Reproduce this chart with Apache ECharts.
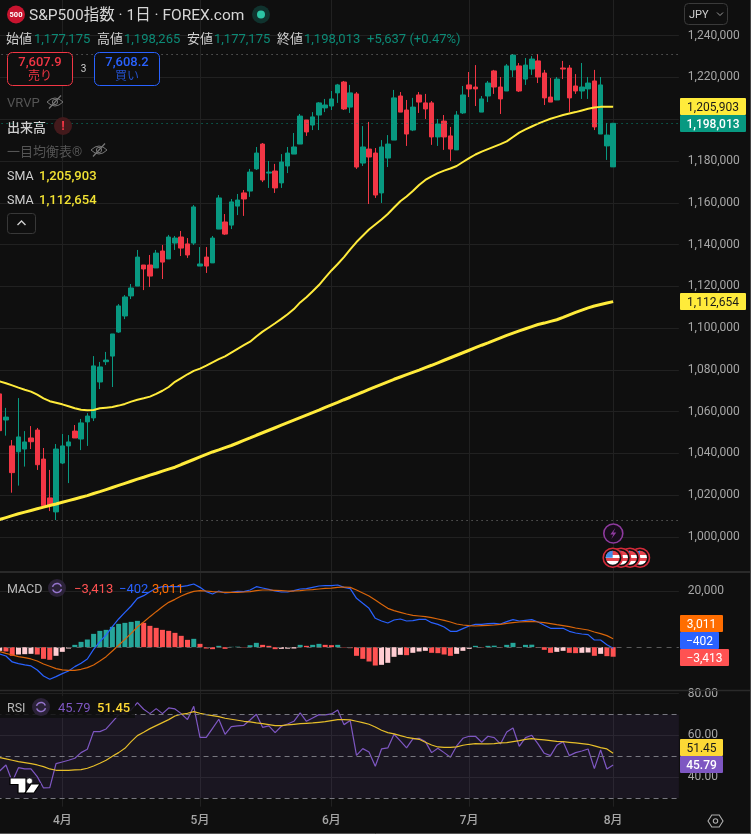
<!DOCTYPE html>
<html><head><meta charset="utf-8">
<style>html,body{margin:0;padding:0;background:#0f0f0f}#c{width:751px;height:834px}</style>
<script src="https://cdn.jsdelivr.net/npm/echarts@6/dist/echarts.min.js"></script>
</head><body><div id="c"></div>
<script>
// ---- values (prices in thousands of yen) ----
const candlesK = [ // open, close, low, high
[1068.5,1050.9,1050.2,1069.4],[1056.0,1057.4,1048.5,1061.8],[1043.6,1030.8,1021.2,1046.4],[1040.8,1047.9,1024.6,1066.5],
[1042.1,1045.5,1033.7,1050.7],[1047.4,1045.6,1042.1,1053.1],[1051.2,1034.6,1032.1,1052.2],[1037.3,1015.0,1013.9,1042.6],
[1018.7,1015.3,1012.4,1032.1],[1012.0,1042.1,1008.1,1044.5],[1035.4,1043.6,1034.9,1049.3],[1043.6,1045.5,1025.8,1048.8],
[1050.7,1047.4,1047.4,1053.6],[1046.9,1054.6,1041.6,1056.5],[1055.1,1057.9,1043.6,1059.3],[1057.0,1081.9,1055.5,1086.6],
[1074.2,1081.4,1070.8,1083.8],[1083.9,1084.7,1082.3,1088.6],[1086.6,1097.2,1071.8,1097.2],[1098.1,1110.6,1097.7,1111.5],
[1105.8,1114.9,1104.3,1115.8],[1115.4,1119.2,1113.9,1121.1],[1120.1,1134.0,1120.1,1137.4],[1130.2,1128.3,1118.2,1130.2],
[1130.2,1124.9,1119.7,1135.0],[1128.8,1135.9,1128.8,1137.4],[1136.9,1131.6,1123.5,1139.8],[1133.1,1143.6,1133.1,1144.6],
[1140.7,1143.1,1137.4,1144.1],[1143.6,1138.3,1134.5,1146.5],[1140.3,1135.0,1133.6,1143.1],[1140.7,1158.0,1139.8,1158.9],
[1129.7,1130.7,1129.7,1138.8],[1134.0,1129.7,1126.4,1138.8],[1131.2,1143.1,1131.2,1144.1],[1147.4,1162.3,1147.4,1163.7],
[1150.8,1145.0,1144.6,1154.6],[1149.3,1160.4,1147.4,1161.8],[1158.4,1161.3,1154.1,1164.2],[1164.7,1161.8,1153.7,1166.1],
[1165.6,1174.7,1162.8,1176.2],[1176.2,1183.8,1175.7,1186.7],[1188.1,1170.9,1169.9,1188.6],[1174.2,1174.7,1167.1,1180.0],
[1175.2,1167.1,1164.7,1178.6],[1169.5,1179.5,1167.1,1183.3],[1177.6,1183.8,1174.2,1186.7],[1183.3,1186.7,1183.3,1193.4],
[1188.1,1201.5,1188.1,1202.5],[1199.6,1193.9,1192.0,1199.6],[1197.2,1201.1,1194.8,1203.4],[1202.0,1207.8,1194.8,1208.2],
[1205.4,1206.8,1203.4,1209.7],[1206.3,1209.7,1204.4,1213.5],[1212.6,1216.4,1207.8,1216.9],[1217.8,1204.9,1204.4,1218.3],
[1205.8,1212.6,1203.0,1216.4],[1212.1,1177.1,1176.2,1213.0],[1179.0,1186.7,1177.6,1196.7],[1185.7,1181.9,1159.4,1198.7],
[1183.8,1163.7,1162.3,1186.2],[1164.7,1186.7,1159.9,1190.0],[1181.4,1188.1,1177.1,1192.4],[1190.0,1210.2,1190.0,1214.0],
[1211.1,1203.4,1203.4,1213.0],[1204.4,1192.9,1187.2,1209.2],[1194.8,1205.8,1194.3,1210.2],[1211.6,1208.2,1203.0,1213.0],
[1207.8,1204.9,1200.1,1212.1],[1207.8,1191.5,1187.7,1208.7],[1191.5,1197.7,1187.2,1200.1],[1199.1,1191.5,1185.3,1202.0],
[1192.0,1185.7,1180.0,1196.3],[1185.3,1202.0,1185.3,1203.9],[1203.0,1211.6,1202.5,1215.9],[1216.4,1214.5,1210.6,1222.6],
[1215.4,1214.5,1206.3,1225.9],[1203.4,1209.7,1203.4,1211.1],[1211.1,1217.3,1208.2,1218.3],[1223.1,1215.4,1212.1,1223.6],
[1215.4,1209.7,1202.5,1220.2],[1213.5,1225.5,1213.5,1226.4],[1223.6,1230.7,1220.2,1231.2],[1225.5,1213.5,1213.0,1226.9],
[1219.2,1225.9,1216.4,1229.3],[1224.0,1228.8,1221.2,1230.2],[1227.9,1220.2,1217.3,1231.2],[1222.1,1210.2,1206.8,1223.6],
[1210.6,1208.2,1208.2,1219.7],[1209.2,1219.2,1209.2,1220.2],[1224.5,1224.0,1219.2,1227.9],[1224.5,1210.2,1203.4,1225.9],
[1215.9,1213.5,1212.1,1221.6],[1213.5,1215.4,1209.7,1226.9],[1214.5,1217.3,1209.7,1220.2],[1218.3,1196.3,1194.8,1223.6],
[1192.9,1216.4,1192.9,1220.2],[1187.2,1192.4,1180.5,1198.2],[1177.175,1198.013,1177.175,1198.265]];
const sma50K = [1074.5,1073.6,1072.6,1071.5,1070.5,1069.6,1068.1,1066.4,1065.0,1064.3,1063.5,1062.6,1061.6,1060.9,1060.7,1060.8,1061.6,1061.9,1062.2,1062.9,1063.7,1064.8,1065.7,1066.4,1067.2,1068.5,1070.0,1071.8,1074.3,1076.1,1077.9,1079.5,1080.6,1082.0,1083.6,1085.1,1086.5,1088.3,1090.1,1091.8,1093.5,1096.0,1098.3,1100.3,1102.3,1104.4,1106.6,1109.1,1112.3,1114.8,1117.6,1120.6,1124.2,1127.6,1130.7,1134.0,1137.7,1141.2,1144.2,1147.2,1149.6,1152.0,1154.6,1157.7,1160.7,1163.0,1165.6,1168.5,1170.9,1172.6,1174.2,1175.4,1176.4,1177.6,1179.5,1181.4,1183.1,1184.5,1185.7,1186.9,1188.1,1189.4,1191.5,1193.6,1195.1,1196.5,1197.9,1199.1,1200.2,1201.1,1202.0,1202.7,1203.4,1204.2,1205.0,1205.6,1205.9,1206.0,1205.903];
const sma200K = [1008.4,1009.3,1010.2,1011.1,1011.9,1012.7,1013.5,1014.3,1015.1,1015.8,1016.6,1017.4,1018.2,1019.0,1019.8,1020.8,1021.7,1022.7,1023.7,1024.7,1025.7,1026.7,1027.7,1028.6,1029.6,1030.5,1031.5,1032.5,1033.4,1034.7,1035.9,1037.1,1038.3,1039.5,1040.7,1041.7,1042.8,1043.8,1045.0,1046.2,1047.4,1048.7,1049.9,1051.1,1052.3,1053.5,1054.7,1055.9,1057.1,1058.3,1059.5,1060.7,1062.0,1063.2,1064.4,1065.7,1066.9,1068.2,1069.4,1070.7,1071.9,1073.1,1074.3,1075.5,1076.6,1077.7,1078.8,1079.9,1081.1,1082.2,1083.4,1084.6,1085.8,1087.0,1088.2,1089.4,1090.6,1091.8,1092.9,1094.1,1095.3,1096.5,1097.6,1098.7,1099.7,1100.7,1101.7,1102.4,1103.2,1104.0,1105.1,1106.3,1107.5,1108.6,1109.7,1110.6,1111.3,1112.0,1112.654];
const macdK = [-2.43,-3.14,-5.28,-5.88,-6.35,-6.71,-8.14,-10.28,-11.47,-10.52,-9.45,-8.50,-6.95,-5.76,-4.21,-0.76,1.98,4.36,7.33,10.07,12.45,14.71,17.45,18.40,19.83,21.02,21.61,21.61,21.61,21.61,21.97,22.56,21.37,19.83,18.99,20.06,19.35,19.59,19.94,19.83,20.42,21.61,21.13,20.66,20.06,19.71,19.71,20.18,20.78,20.90,21.37,21.85,21.97,21.97,22.21,21.37,20.90,17.45,15.66,13.88,10.31,9.35,8.64,9.71,10.07,9.35,9.47,9.95,9.95,8.76,8.16,7.21,5.66,5.66,6.62,7.57,8.16,8.16,8.40,8.52,8.28,9.12,9.83,9.35,9.59,9.83,9.00,7.81,6.74,6.74,6.74,5.66,5.07,4.71,4.47,2.57,2.57,0.90,-0.402];
const signalK = [-1.59,-2.19,-2.78,-3.38,-3.74,-4.21,-4.93,-6.00,-6.83,-7.66,-8.14,-8.26,-8.26,-7.90,-7.31,-6.35,-4.93,-3.38,-1.36,0.67,2.81,4.95,7.21,9.00,10.90,12.69,14.46,16.02,17.09,18.28,19.23,19.94,20.18,20.06,19.83,19.71,19.59,19.59,19.59,19.71,19.83,20.18,20.42,20.42,20.30,20.18,20.06,20.06,20.18,20.42,20.54,20.78,21.02,21.13,21.37,21.49,21.37,20.42,19.35,18.28,16.85,15.30,13.88,13.04,12.45,11.85,11.38,11.14,10.90,10.54,10.07,9.59,9.00,8.28,7.93,7.69,7.57,7.69,7.81,7.93,8.16,8.52,8.76,9.00,9.12,9.23,9.00,8.76,8.40,8.04,7.69,7.33,6.85,6.50,6.14,5.43,4.83,4.12,3.011];
const histK = [-1.31,-1.55,-3.09,-2.62,-2.50,-2.38,-2.62,-4.17,-4.52,-3.09,-1.67,-0.48,0.83,1.90,2.74,4.76,5.83,6.19,7.26,8.33,8.69,9.04,9.40,8.69,7.62,6.90,6.19,5.83,5.12,4.05,2.62,2.98,1.19,-0.48,-0.71,0.48,-0.60,0.12,0.18,-0.12,0.71,1.55,0.83,0.48,-0.71,-0.60,-0.54,-0.48,0.83,0.48,0.83,1.19,0.83,0.71,0.83,-0.12,-0.36,-3.09,-4.17,-5.12,-6.55,-6.31,-5.59,-3.45,-2.74,-2.86,-2.02,-1.55,-1.31,-2.02,-2.14,-2.62,-3.09,-2.38,-1.31,-0.60,0.48,-0.12,0.48,0.54,-0.12,0.83,1.55,-0.24,0.83,0.89,-0.24,-0.95,-2.02,-1.67,-1.31,-2.02,-2.14,-2.02,-1.90,-3.09,-2.38,-3.21,-3.413];
const rsiValues = [42.97,45.85,37.86,44.57,43.94,43.94,40.26,34.83,34.99,46.49,47.29,48.09,49.05,51.76,53.36,61.83,61.83,63.10,66.46,69.81,70.77,72.21,75.72,72.53,70.45,72.85,70.45,73.17,72.69,70.45,67.58,73.97,59.11,59.11,63.42,67.74,60.55,64.22,64.54,64.86,67.42,70.13,63.90,64.54,61.35,64.38,65.50,66.78,70.77,66.78,68.38,69.97,69.81,70.29,72.21,65.18,67.10,50.48,53.68,52.08,45.21,53.52,54.00,60.55,57.35,54.00,58.31,58.63,57.03,51.76,53.84,51.76,49.53,54.96,58.63,59.59,59.59,56.71,59.59,58.95,55.92,61.67,63.58,54.80,58.95,60.07,55.92,51.44,50.32,55.28,57.03,50.32,51.76,52.56,53.52,44.09,53.04,43.94,45.79];
const rsiMaValues = [49.37,48.73,48.09,47.45,46.97,46.49,45.85,45.05,43.94,43.30,43.30,43.30,43.46,43.62,44.26,45.37,46.65,48.09,50.00,51.76,53.84,57.03,59.91,61.51,63.26,64.70,66.14,67.58,69.33,70.13,70.61,71.41,70.61,69.97,69.49,69.01,68.22,67.74,67.26,66.78,66.46,65.98,65.66,65.18,64.70,64.70,65.02,65.34,65.66,65.82,65.98,66.30,66.62,67.10,67.58,67.58,67.42,66.78,66.14,65.34,64.06,62.46,61.35,60.71,59.91,59.11,58.63,58.15,56.71,55.44,54.48,54.32,54.32,54.48,55.28,55.76,56.08,55.92,55.92,56.08,56.40,56.56,57.03,57.51,58.15,58.47,58.15,57.83,57.51,57.19,57.03,56.71,56.40,56.08,55.76,54.96,54.16,53.52,51.45];
const priceTicks = [1000000,1020000,1040000,1060000,1080000,1100000,1120000,1140000,1160000,1180000,1200000,1220000,1240000];
const macdTicks = [20000];
const rsiTicks = [40,60,80];
const rsiLevels = [70,50,30];
const monthTicks = [10,32,53,75,98];
const monthNames = ['4月','5月','6月','7月','8月'];
const lastPrice = 1198013, periodHigh = 1231200, periodLow = 1008100;
const slotCount = 109;

// ---- build ----
const K = 1000;
const categories = Array.from({length:slotCount},(_,i)=>{const m=monthTicks.indexOf(i);return m<0?'':monthNames[m];});
const scaleK = a=>a.map(v=>v*K);
const FONT = "Roboto, 'Noto Sans CJK JP', sans-serif";
const GRID = '#212121', LBL = '#a6a6a6', BG = '#0f0f0f';
const UP = '#089981', DOWN = '#F23645';
const TEAL='#26a69a', CORAL='#FF5252', PINK='#FFCDD2';
const histItems = histK.map((v,i)=>{
  const p = i? histK[i-1] : v-1;
  const color = v>=0 ? (v>=p?TEAL:CORAL) : (v<p?CORAL:PINK);
  return {value:v*K,itemStyle:{color}};
});
const left=-3.43, width=682.3, outerBoundsMode='none';
const grids=[{left,width,top:0,height:572,outerBoundsMode},{left,width,top:573,height:117,outerBoundsMode},{left,width,top:691,height:115.7,outerBoundsMode}];
const isMonth = i=>monthTicks.includes(i);
const xAxis=[0,1,2].map(g=>({
  type:'category',gridIndex:g,data:categories,boundaryGap:true,
  axisLine:{show:false},axisTick:{show:false},
  splitLine:{show:true,alignWithLabel:true,interval:isMonth,lineStyle:{color:GRID,width:1}},
  axisLabel:g===2?{show:true,interval:isMonth,color:LBL,fontSize:12,fontWeight:500,fontFamily:FONT,margin:8}:{show:false}
}));
const yBase=(g,min,max,ticks,fmt)=>({
  type:'value',gridIndex:g,position:'right',min,max,scale:true,
  axisLine:{show:false},
  axisTick:{show:false,customValues:ticks},
  splitLine:{show:true,lineStyle:{color:GRID,width:1}},
  axisLabel:{color:LBL,fontSize:12,fontFamily:FONT,margin:9,formatter:fmt,customValues:ticks,showMinLabel:true,showMaxLabel:true}
});
const comma=v=>Math.round(v).toLocaleString('en-US');
const dots=c=>({color:c,type:[1,4],width:1,opacity:.9});

const option={
  animation:false,backgroundColor:BG,
  grid:grids,xAxis,
  yAxis:[
    yBase(0,983240,1257060,priceTicks,comma),
    yBase(1,-15300,26500,macdTicks,comma),
    yBase(2,25.85,81.29,rsiTicks,v=>v.toFixed(2))
  ],
  series:[
    {type:'candlestick',xAxisIndex:0,yAxisIndex:0,z:3,barWidth:5,
     data:candlesK.map(r=>r.map(v=>v*K)),
     itemStyle:{color:UP,color0:DOWN,borderColor:UP,borderColor0:DOWN,borderWidth:1},
     markLine:{silent:true,symbol:'none',label:{show:false},animation:false,data:[
       {yAxis:periodHigh,lineStyle:dots('#8a8a8a')},
       {yAxis:periodLow,lineStyle:dots('#8a8a8a')},
       {yAxis:lastPrice,lineStyle:dots(UP)}
     ]}},
    {type:'line',name:'SMA50',xAxisIndex:0,yAxisIndex:0,z:4,data:scaleK(sma50K),showSymbol:false,symbol:'none',lineStyle:{color:'#FFEB3B',width:2}},
    {type:'line',name:'SMA200',xAxisIndex:0,yAxisIndex:0,z:4,data:scaleK(sma200K),showSymbol:false,symbol:'none',lineStyle:{color:'#FFEB3B',width:3}},
    {type:'bar',name:'Hist',xAxisIndex:1,yAxisIndex:1,barWidth:5,z:2,data:histItems,
     markLine:{silent:true,symbol:'none',label:{show:false},animation:false,lineStyle:{color:'#5a5a5a',type:[5,5],width:1},data:[{yAxis:0}]}},
    {type:'line',name:'MACD',xAxisIndex:1,yAxisIndex:1,z:3,data:scaleK(macdK),symbol:'none',lineStyle:{color:'#2962FF',width:1.2}},
    {type:'line',name:'Signal',xAxisIndex:1,yAxisIndex:1,z:3,data:scaleK(signalK),symbol:'none',lineStyle:{color:'#D9650A',width:1.2}},
    {type:'line',name:'RSI',xAxisIndex:2,yAxisIndex:2,z:3,data:rsiValues,symbol:'none',lineStyle:{color:'#7E57C2',width:1.2},
     markArea:{silent:true,itemStyle:{color:'rgba(126,87,194,0.10)'},data:[[{yAxis:rsiLevels[0]},{yAxis:rsiLevels[2]}]]},
     markLine:{silent:true,symbol:'none',label:{show:false},animation:false,lineStyle:{color:'#77777f',type:[5,4],width:1},data:rsiLevels.map(v=>({yAxis:v}))}},
    {type:'line',name:'RSI MA',xAxisIndex:2,yAxisIndex:2,z:3,data:rsiMaValues,symbol:'none',lineStyle:{color:'#E6BE2A',width:1.2}}
  ]
};

// ---- header, tags and icons ----
const G=[];
const Z=100;
const T=(text,x,y,fill,size=13,weight=400,align='left',dy=1.5)=>G.push({type:'text',z:Z+2,style:{text,x,y:y+dy,fill,font:`${weight} ${size}px ${FONT}`,textAlign:align,textVerticalAlign:'middle'}});
const R=(x,y,w,h,fill,stroke,r=0,lw=1,z=Z)=>G.push({type:'rect',z,shape:{x,y,width:w,height:h,r},style:{fill:fill||'none',stroke:stroke||'none',lineWidth:lw}});
const C=(cx,cy,r,fill,stroke,lw=1,z=Z+1)=>G.push({type:'circle',z,shape:{cx,cy,r},style:{fill:fill||'none',stroke:stroke||'none',lineWidth:lw}});
const PG=(pts,x,y,fill,stroke,lw=1,z=Z+1)=>G.push({type:'polygon',z,shape:{points:pts.map(p=>[p[0]+x,p[1]+y])},style:{fill:fill||'none',stroke:stroke||'none',lineWidth:lw}});
const PL=(pts,x,y,stroke,lw=1,z=Z+1)=>G.push({type:'polyline',z,shape:{points:pts.map(p=>[p[0]+x,p[1]+y])},style:{fill:'none',stroke,lineWidth:lw}});
const L=(x1,y1,x2,y2,c,lw=1,z=Z)=>G.push({type:'line',z,shape:{x1,y1,x2,y2},style:{stroke:c,lineWidth:lw}});

// pane separators and window edge
L(0,572,751,572,'#2a2a2a',2);L(0,690.5,751,690.5,'#2a2a2a',1.5);L(0,833.5,751,833.5,'#555',1);L(750.5,0,750.5,834,'#444',1);

// title
C(16,14.5,9,'#C8142F');T('500',16,14,'#fff',7.5,700,'center');
T('S&P500指数 · 1日 · FOREX.com',29,15,'#d6d6d6',15.5);
C(261,14.5,9,'#10332e');C(261,14.5,4,'#2cc4a4');
// OHLC row
const TG='#0c8a76', TX='#cfcfcf';
T('始値',6,38,TX);T('1,177,175',34,38,TG);T('高値',97,38,TX);T('1,198,265',124,38,TG);
T('安値',187,38,TX);T('1,177,175',214,38,TG);T('終値',277,38,TX);T('1,198,013',304,38,TG);T('+5,637 (+0.47%)',367,38,TG);
// order buttons
R(7.5,52.5,65,33,BG,DOWN,5);T('7,607.9',40,61,DOWN,13,500,'center');T('売り',40,75.5,DOWN,12,400,'center');
T('3',83.5,68,'#cfcfcf',10,400,'center');
R(94.5,52.5,65,33,BG,'#2962FF',5);T('7,608.2',127,61,'#2962FF',13,500,'center');T('買い',127,75.5,'#2450c8',12,400,'center');
// legend stack
const eye=(x,y,c)=>{
  G.push({type:'bezierCurve',z:Z+1,shape:{x1:x-8,y1:y,x2:x+8,y2:y,cpx1:x,cpy1:y-8},style:{stroke:c,lineWidth:1,fill:'none'}});
  G.push({type:'bezierCurve',z:Z+1,shape:{x1:x-8,y1:y,x2:x+8,y2:y,cpx1:x,cpy1:y+8},style:{stroke:c,lineWidth:1,fill:'none'}});
  C(x,y,2.6,null,c,1);L(x-6,y+6.5,x+6,y-6.5,c,1.2,Z+1);};
T('VRVP',7,102,'#555',13);eye(55,102,'#777');
T('出来高',7,127,'#d0d0d0',13,500);C(63,126,9,'#431a1c');T('!',63,125.5,DOWN,13,700,'center');
T('一目均衡表®',7,151,'#555',13);eye(99,150,'#777');
T('SMA',7,175,'#cfcfcf',12.5);T('1,205,903',39,175,'#F2E233',13,500);
T('SMA',7,199,'#cfcfcf',12.5);T('1,112,654',39,199,'#F2E233',13,500);
R(7.5,213.5,28,20,BG,'#383838',3);PL([[-4,2],[0,-2],[4,2]],21.5,223,'#d0d0d0',1.4);
// price tags
const tag=(x,y,w,h,bg,fg,t,wt=400)=>{R(x,y,w,h,bg,null,1,1,Z);T(t,x+w/2,y+h/2,fg,12,wt,'center',1);};
tag(680,98,66,17,'#FFEB3B','#1a1a1a','1,205,903');
tag(680,115,66,17,UP,'#fff','1,198,013',500);
tag(680,293,66,17,'#FFEB3B','#1a1a1a','1,112,654');
tag(680,615,43,17,'#FF6D00','#fff','3,011');
tag(680,632,39,17,'#2962FF','#fff','−402');
tag(680,649,49,17,CORAL,'#fff','−3,413');
tag(680,739,43,17,'#FDD835','#1a1a1a','51.45');
tag(680,756,43,17,'#7E57C2','#fff','45.79',500);
// currency button
R(684.5,3.5,43,21,BG,'#3a3a3a',4);T('JPY',689,13.5,'#d0d0d0',11);PL([[-3,-1.5],[0,1.5],[3,-1.5]],720,14,'#9a9a9a',1);
// refresh icons
const refresh=(x,y)=>{C(x,y,9,'#2b2238');
 G.push({type:'arc',z:Z+2,shape:{cx:x,cy:y,r:4.6,startAngle:-2.9,endAngle:-.35},style:{stroke:'#9575CD',lineWidth:1.5,fill:'none'}});
 G.push({type:'arc',z:Z+2,shape:{cx:x,cy:y,r:4.6,startAngle:.25,endAngle:2.8},style:{stroke:'#9575CD',lineWidth:1.5,fill:'none'}});};
// MACD legend
T('MACD',7,588,'#b8b8b8',12.5);refresh(57,588);
T('−3,413',74,588,CORAL,13);T('−402',119,588,'#2962FF',13);T('3,011',152,588,'#FF6D00',13);
// RSI legend
R(0,696,135,22,'rgba(15,15,15,.85)',null,0,1,Z-1);
T('RSI',7,707,'#b8b8b8',12.5);refresh(41,707);
T('45.79',58,707,'#7E57C2',13);T('51.45',97,707,'#FDD835',13,500);
// logo
PG([[0,0],[16,0],[16,15],[8,15],[8,6.5],[0,6.5]],10,778,'#fff','#000',1.2);C(29.5,781,3,'#fff','#000',.6);
PG([[6,6],[15,6],[9,15],[0,15]],25,778,'#fff','#000',1.2);
// events
C(613.3,533.5,9.5,'#160c1a','#8E3A9E',1.6);
PG([[2,-5.5],[-3,1],[0,1],[-2,5.5],[3,-1],[0,-1]],613.3,533.5,'#8E3A9E',null);
[640,630,621,612.7].forEach(x=>{
  C(x,557.7,9.5,'#0f0f0f','#D42A3A',1.6);
  C(x,557.7,7,{type:'linear',x:0,y:0,x2:0,y2:1,colorStops:[{offset:0,color:'#e4434d'},{offset:.28,color:'#e4434d'},{offset:.28,color:'#fff'},{offset:.5,color:'#fff'},{offset:.5,color:'#e4434d'},{offset:.72,color:'#e4434d'},{offset:.72,color:'#fff'},{offset:1,color:'#fff'}]},null,1);
  G.push({type:'sector',z:Z+1,shape:{cx:x,cy:557.7,r:7,r0:0,startAngle:Math.PI,endAngle:1.5*Math.PI},style:{fill:'#3f8ce8'}});
});
// settings hexagon
PG([[-7.5,0],[-3.7,-6],[3.7,-6],[7.5,0],[3.7,6],[-3.7,6]],715.5,821,null,'#b0b0b0',1.1);C(715.5,821,2.2,null,'#b0b0b0',1.1);
option.graphic={elements:G};

const chart=echarts.init(document.getElementById('c'),null,{renderer:'canvas',width:751,height:834});
chart.setOption(option);
</script></body></html>
